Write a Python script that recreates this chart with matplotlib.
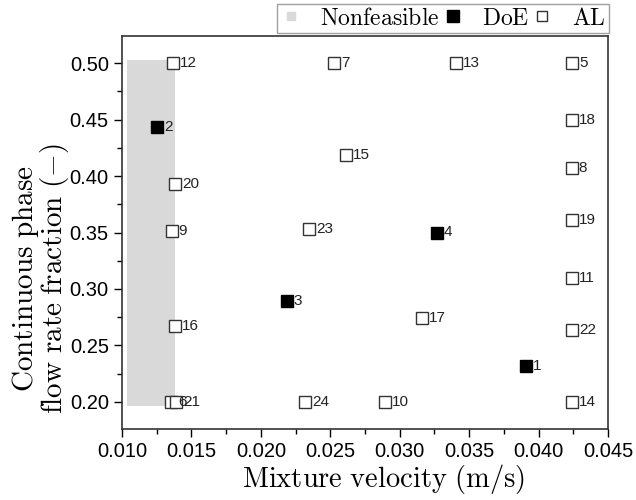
import matplotlib
matplotlib.use("Agg")
import matplotlib.pyplot as plt
from matplotlib.lines import Line2D
from matplotlib.patches import Rectangle
from matplotlib.ticker import AutoMinorLocator

plt.rcParams['mathtext.fontset'] = 'cm'
plt.rcParams['font.family'] = ['Liberation Sans', 'DejaVu Sans']

# Data
doe_ids = [1, 2, 3, 4]
doe_x = [0.0391, 0.01252, 0.02188, 0.03268]
doe_y = [0.232, 0.443, 0.289, 0.350]

al_ids = list(range(5, 25))
al_x = [0.0424, 0.01355, 0.02527, 0.0424, 0.01358, 0.02894, 0.0424, 0.01367,
        0.03405, 0.0424, 0.02611, 0.0138, 0.03163, 0.0424, 0.0424, 0.01382,
        0.0139, 0.0424, 0.02349, 0.02318]
al_y = [0.50, 0.20, 0.50, 0.407, 0.351, 0.20, 0.310, 0.50,
        0.50, 0.20, 0.419, 0.267, 0.274, 0.450, 0.361, 0.393,
        0.20, 0.264, 0.3535, 0.20]

nonfeasible_x = [0.01034, 0.01382]
nonfeasible_y = [0.196, 0.503]

xticks = [0.010, 0.015, 0.020, 0.025, 0.030, 0.035, 0.040, 0.045]
yticks = [0.20, 0.25, 0.30, 0.35, 0.40, 0.45, 0.50]

fig = plt.figure(figsize=(6.36, 5.0), dpi=100)
ax = fig.add_axes([0.1918, 0.142, 0.7642, 0.786])

gray = '#d9d9d9'
ax.add_patch(Rectangle((nonfeasible_x[0], nonfeasible_y[0]),
                       nonfeasible_x[1] - nonfeasible_x[0],
                       nonfeasible_y[1] - nonfeasible_y[0],
                       facecolor=gray, edgecolor='none', zorder=1))

ax.plot(al_x, al_y, ls='none', marker='s', ms=8, mfc='white', mec='#333333',
        mew=1.0, zorder=3)
ax.plot(doe_x, doe_y, ls='none', marker='s', ms=8, mfc='black', mec='black',
        mew=1.0, zorder=4)

for i, x, y in zip(doe_ids + al_ids, doe_x + al_x, doe_y + al_y):
    ax.annotate(str(i), (x, y), xytext=(5, 0), textcoords='offset points',
                ha='left', va='center', fontsize=11, color='#222222', zorder=5)

ax.set_xlim(0.010, 0.045)
ax.set_ylim(0.176, 0.524)
ax.set_xticks(xticks)
ax.set_xticklabels([f"{v:.3f}" for v in xticks])
ax.set_yticks(yticks)
ax.set_yticklabels([f"{v:.2f}" for v in yticks])
ax.xaxis.set_minor_locator(AutoMinorLocator(2))
ax.yaxis.set_minor_locator(AutoMinorLocator(2))
ax.tick_params(which='major', direction='out', length=6, width=1, labelsize=14.5)
ax.tick_params(which='minor', direction='out', length=3.5, width=1)
for s in ax.spines.values():
    s.set_linewidth(1.2)
    s.set_color('#333333')

ax.set_xlabel(r'$\mathrm{Mixture\ velocity\ (m/s)}$', fontsize=20.5, va='center')
ax.xaxis.set_label_coords(0.539, -0.128)
ax.set_ylabel('$\\mathrm{Continuous\\ phase}$\n$\\mathrm{flow\\ rate\\ fraction\\ (-)}$',
              fontsize=21, linespacing=0.85, va='center')
ax.yaxis.set_label_coords(-0.168, 0.384)

handles = [
    Line2D([], [], ls='none', marker='s', ms=6, mfc=gray, mec=gray),
    Line2D([], [], ls='none', marker='s', ms=8, mfc='black', mec='black'),
    Line2D([], [], ls='none', marker='s', ms=7, mfc='white', mec='#333333'),
]
labels = [r'$\mathrm{Nonfeasible}$', r'$\mathrm{DoE}$', r'$\mathrm{AL}$']
leg = fig.legend(handles, labels, ncol=3, loc='upper right',
                 bbox_to_anchor=(609 / 636, 1 - 4 / 500), fontsize=17,
                 frameon=True, fancybox=False, edgecolor='#888888',
                 handletextpad=0.8, columnspacing=0.1, borderpad=0.15,
                 handlelength=0.9, borderaxespad=0)
leg.get_frame().set_linewidth(1.0)

fig.savefig('out.png', dpi=100)
